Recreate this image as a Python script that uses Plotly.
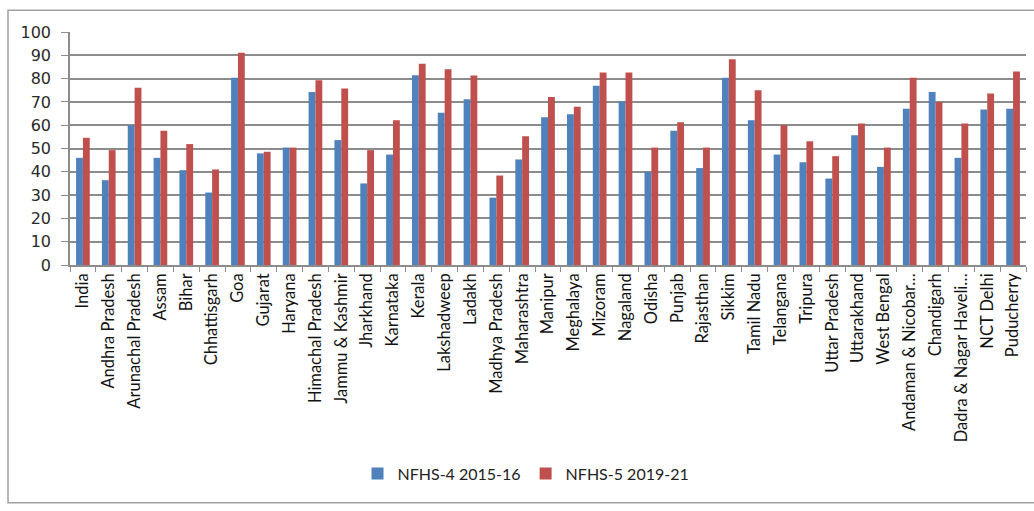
import plotly.graph_objects as go

# States / UTs along the category axis
regions = [
    "India", "Andhra Pradesh", "Arunachal Pradesh", "Assam", "Bihar", "Chhattisgarh",
    "Goa", "Gujarat", "Haryana", "Himachal Pradesh", "Jammu & Kashmir", "Jharkhand",
    "Karnataka", "Kerala", "Lakshadweep", "Ladakh", "Madhya Pradesh", "Maharashtra",
    "Manipur", "Meghalaya", "Mizoram", "Nagaland", "Odisha", "Punjab", "Rajasthan",
    "Sikkim", "Tamil Nadu", "Telangana", "Tripura", "Uttar Pradesh", "Uttarakhand",
    "West Bengal", "Andaman & Nicobar\u2026", "Chandigarh", "Dadra & Nagar Haveli\u2026",
    "NCT Delhi", "Puducherry",
]

# Survey round values
nfhs4 = [46.0, 36.4, 60.0, 46.0, 40.7, 31.1, 80.4, 47.9, 50.4, 74.3, 53.6, 35.0,
         47.4, 81.4, 65.3, 71.1, 28.9, 45.3, 63.4, 64.7, 76.9, 70.3, 40.0, 57.6,
         41.6, 80.4, 62.1, 47.4, 44.1, 37.1, 55.7, 42.1, 67.1, 74.3, 46.0, 66.7, 67.1]
nfhs5 = [54.6, 49.3, 76.1, 57.6, 51.9, 41.0, 91.1, 48.6, 50.4, 79.3, 75.7, 49.3,
         62.1, 86.4, 84.0, 81.3, 38.4, 55.3, 72.1, 67.9, 82.6, 82.6, 50.4, 61.3,
         50.4, 88.3, 75.0, 60.0, 53.1, 46.7, 60.7, 50.4, 80.4, 70.0, 60.7, 73.6, 83.1]

y_ticks = [0, 10, 20, 30, 40, 50, 60, 70, 80, 90, 100]

BLUE = "#4f81bd"
RED = "#c0504d"
GRID = "#8c8c8c"

fig = go.Figure()
fig.add_trace(go.Bar(x=regions, y=nfhs4, name="NFHS-4 2015-16", marker_color=BLUE,
                     marker_line_width=0))
fig.add_trace(go.Bar(x=regions, y=nfhs5, name="NFHS-5 2019-21", marker_color=RED,
                     marker_line_width=0))

fig.update_layout(
    width=1034, height=511,
    margin=dict(l=70, r=8, t=32, b=246, autoexpand=False),
    paper_bgcolor="white", plot_bgcolor="white",
    barmode="group", bargap=0.47, bargroupgap=0.0,
    font=dict(family="Lato, Calibri, sans-serif", color="#222222"),
    legend=dict(orientation="h", x=0.477, xanchor="center", xref="paper",
                y=-0.895, yanchor="middle", font=dict(size=16, family="Lato"),
                itemwidth=30, traceorder="normal"),
    xaxis=dict(
        tickangle=-90, tickfont=dict(size=16.5, family="Lato", color="#111111"),
        showline=True, linecolor=GRID, linewidth=1.5,
        ticks="outside", tickson="boundaries", ticklen=5, tickcolor=GRID,
        showgrid=False,
    ),
    yaxis=dict(
        range=[0, 100], tickvals=y_ticks,
        tickfont=dict(size=16, family="DejaVu Sans", color="#2a2a2a"),
        showgrid=True, gridcolor=GRID, gridwidth=1.5,
        showline=True, linecolor=GRID, linewidth=1.5,
        ticks="outside", ticklen=7, tickcolor=GRID, ticklabelstandoff=7,
        zeroline=False,
    ),
    shapes=[
        dict(type="rect", xref="paper", yref="paper",
             x0=-62 / 956, x1=1.05, y0=-(503 - 265) / 233.3, y1=(265 - 10) / 233.3,
             line=dict(color="#a0a0a0", width=1.5), layer="below"),
    ],
)

fig.write_html("out.html")
